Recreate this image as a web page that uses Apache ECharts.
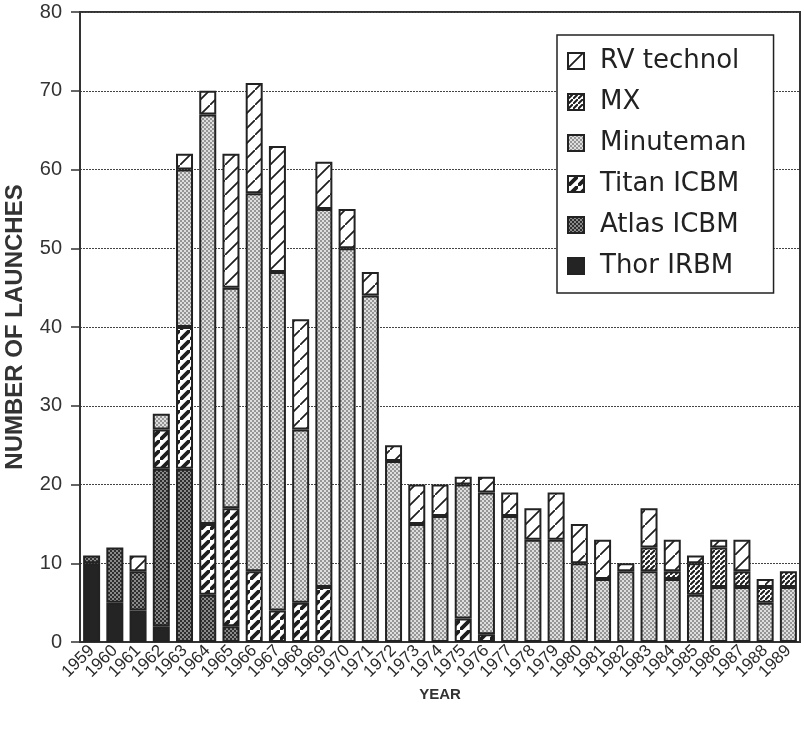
<!DOCTYPE html>
<html>
<head>
<meta charset="utf-8">
<script src="https://cdn.jsdelivr.net/npm/echarts@6/dist/echarts.min.js"></script>
<style>html,body{margin:0;padding:0;background:#fff;}#c{width:804px;height:729px;}</style>
</head>
<body>
<div id="c"></div>
<script>
var years = ['1959','1960','1961','1962','1963','1964','1965','1966','1967','1968','1969','1970','1971','1972','1973','1974','1975','1976','1977','1978','1979','1980','1981','1982','1983','1984','1985','1986','1987','1988','1989'];
var thor     = [10,5,4,2,0,0,0,0,0,0,0,0,0,0,0,0,0,0,0,0,0,0,0,0,0,0,0,0,0,0,0];
var atlas    = [1,7,5,20,22,6,2,0,0,0,0,0,0,0,0,0,0,0,0,0,0,0,0,0,0,0,0,0,0,0,0];
var titan    = [0,0,0,5,18,9,15,9,4,5,7,0,0,0,0,0,3,1,0,0,0,0,0,0,0,0,0,0,0,0,0];
var minuteman= [0,0,0,2,20,52,28,48,43,22,48,50,44,23,15,16,17,18,16,13,13,10,8,9,9,8,6,7,7,5,7];
var mx       = [0,0,0,0,0,0,0,0,0,0,0,0,0,0,0,0,0,0,0,0,0,0,0,0,3,1,4,5,2,2,2];
var rv       = [0,0,2,0,2,3,17,14,16,14,6,5,3,2,5,4,1,2,3,4,6,5,5,1,5,4,1,1,4,1,0];
var yTicks = [0,10,20,30,40,50,60,70,80];
var legendOrder = ['RV technol','MX','Minuteman','Titan ICBM','Atlas ICBM','Thor IRBM'];

function stripes(size, lw, fg, bg) {
  var c = document.createElement('canvas');
  c.width = size; c.height = size;
  var g = c.getContext('2d');
  g.fillStyle = bg; g.fillRect(0,0,size,size);
  g.strokeStyle = fg; g.lineWidth = lw; g.lineCap = 'square';
  g.beginPath();
  g.moveTo(-size, size*2); g.lineTo(size*2, -size);
  g.moveTo(-size*2, size); g.lineTo(size, -size*2);
  g.moveTo(0, size*3); g.lineTo(size*3, 0);
  g.stroke();
  return {image: c, repeat: 'repeat'};
}
function checker(a, b) {
  var c = document.createElement('canvas');
  c.width = 4; c.height = 4;
  var g = c.getContext('2d');
  g.fillStyle = b; g.fillRect(0,0,4,4);
  g.fillStyle = a;
  g.fillRect(0,0,2,2); g.fillRect(2,2,2,2);
  return {image: c, repeat: 'repeat'};
}
var fills = {
  'Thor IRBM': '#242424',
  'Atlas ICBM': checker('#2e2e2e', '#8a8a8a'),
  'Titan ICBM': stripes(10, 3.8, '#1e1e1e', '#ffffff'),
  'Minuteman': checker('#959595', '#dedede'),
  'MX': stripes(5, 2, '#1e1e1e', '#ffffff'),
  'RV technol': stripes(15, 1.7, '#1e1e1e', '#ffffff')
};
function nz(arr){ return arr.map(function(v){ return v === 0 ? null : v; }); }
var seriesDefs = [
  ['Thor IRBM', thor], ['Atlas ICBM', atlas], ['Titan ICBM', titan],
  ['Minuteman', minuteman], ['MX', mx], ['RV technol', rv]
];
var series = seriesDefs.map(function(d){
  return {
    name: d[0], type: 'bar', stack: 'all', barWidth: 17,
    data: nz(d[1]),
    itemStyle: {color: fills[d[0]], borderColor: '#222', borderWidth: 2},
    emphasis: {disabled: true}
  };
});
var font = 'Liberation Sans, Arial, Helvetica, sans-serif';
var chart = echarts.init(document.getElementById('c'), null, {renderer: 'canvas'});
chart.setOption({
  animation: false,
  backgroundColor: '#fff',
  textStyle: {fontFamily: font},
  grid: {left: 80, right: 4, top: 12, bottom: 87, containLabel: false, outerBoundsMode: 'none',
         show: true, borderColor: '#333', borderWidth: 2, backgroundColor: 'transparent'},
  legend: {
    orient: 'vertical', left: 557, top: 35,
    data: legendOrder,
    icon: 'rect', itemWidth: 16, itemHeight: 16, itemGap: 15,
    padding: [13, 27, 14, 10],
    backgroundColor: '#fff', borderColor: '#222', borderWidth: 1.5,
    itemStyle: {borderWidth: 2, borderColor: '#222'},
    textStyle: {fontSize: 26, lineHeight: 26, color: '#222', fontFamily: 'DejaVu Sans, sans-serif', padding: [0,0,0,11]},
    selectedMode: false
  },
  xAxis: {
    type: 'category', data: years,
    name: 'YEAR', nameLocation: 'middle', nameGap: 36,
    nameTextStyle: {fontSize: 15, fontWeight: 'bold', color: '#333', fontFamily: font},
    axisLine: {lineStyle: {color: '#333', width: 2}},
    axisTick: {alignWithLabel: true, length: 7, lineStyle: {color: '#333', width: 1.5}},
    axisLabel: {rotate: 45, fontSize: 17, color: '#2a2a2a', margin: 6, interval: 0, fontFamily: font}
  },
  yAxis: {
    type: 'value', min: yTicks[0], max: yTicks[yTicks.length-1], interval: 10,
    name: 'NUMBER OF LAUNCHES', nameLocation: 'middle', nameGap: 53,
    nameTextStyle: {fontSize: 24, fontWeight: 'bold', color: '#333', fontFamily: font},
    axisLine: {show: true, lineStyle: {color: '#333', width: 2}},
    axisTick: {show: true, length: 9, lineStyle: {color: '#333', width: 1.5}},
    axisLabel: {fontSize: 20, color: '#333', margin: 18, fontFamily: font},
    splitLine: {show: true, lineStyle: {color: '#444', width: 1.2, type: [2,1]}}
  },
  series: series
});
</script>
</body>
</html>
